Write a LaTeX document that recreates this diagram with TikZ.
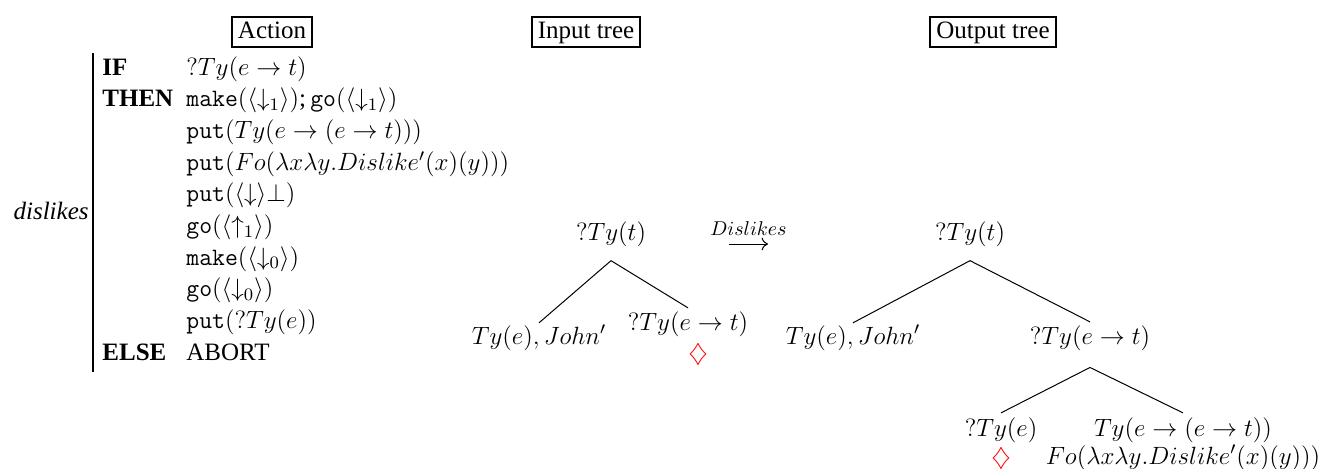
\RequirePackage{fix-cm}
\documentclass[tikz,border=0pt]{standalone}
\usepackage[no-math]{fontspec}
\setmainfont{Liberation Serif}
\usetikzlibrary{calc,arrows.meta}
\tikzset{
  every node/.style={font=\fontsize{12.5}{15}\selectfont, inner sep=0pt},
  hdr/.style={draw, line width=1pt, inner xsep=3pt, inner ysep=1.7pt, text height=8.8pt, text depth=2.8pt},
  row/.style={anchor=base west},
  tnode/.style={anchor=base},
  edge/.style={line width=0.5pt},
  cursor/.style={anchor=base, text=red},
  rulebar/.style={line width=0.9pt},
  trans/.style={line width=0.5pt, -{To[length=3.2pt,width=6.4pt]}},
  arrlabel/.style={font=\fontsize{10}{12}\selectfont, anchor=base, yshift=4.5pt},
}
\begin{document}
\begin{tikzpicture}[x=0.5pt,y=-0.5pt]
\useasboundingbox (0,0) rectangle (1325,468);
% headers
\node[hdr] (action) at (272,32) {Action};
\node[hdr] (input) at (586,32) {Input tree};
\node[hdr] (output) at (993,32) {Output tree};
% lexical action
\coordinate (bartop) at (93,53);
\coordinate (barbot) at (93,372);
\draw[rulebar] (bartop) -- (barbot);
\node[anchor=base east] (name) at (89,219) {\itshape dislikes};
\node[row] (kif) at (102,75) {\bfseries IF};
\node[row] (r0) at (186,75) {$?Ty(e\rightarrow t)$};
\node[row] (kthen) at (102,106.7) {\bfseries THEN};
\node[row] (r1) at (186,106.7) {\texttt{make}$(\langle\downarrow_1\rangle)$;\,\texttt{go}$(\langle\downarrow_1\rangle)$};
\node[row] (r2) at (186,138.4) {\texttt{put}$(Ty(e\rightarrow(e\rightarrow t)))$};
\node[row] (r3) at (186,170.1) {\texttt{put}$(Fo(\lambda x\lambda y.Dislike'(x)(y)))$};
\node[row] (r4) at (186,201.8) {\texttt{put}$(\langle\downarrow\rangle\bot)$};
\node[row] (r5) at (186,233.5) {\texttt{go}$(\langle\uparrow_1\rangle)$};
\node[row] (r6) at (186,265.2) {\texttt{make}$(\langle\downarrow_0\rangle)$};
\node[row] (r7) at (186,296.9) {\texttt{go}$(\langle\downarrow_0\rangle)$};
\node[row] (r8) at (186,328.6) {\texttt{put}$(?Ty(e))$};
\node[row] (kelse) at (102,360.3) {\bfseries ELSE};
\node[row] (r9) at (186,360.3) {ABORT};
% input tree
\node[tnode] (iroot) at (611,240) {$?Ty(t)$};
\node[tnode] (ileft) at (539,344) {$Ty(e), John'$};
\node[tnode] (iright) at (688,330) {$?Ty(e\rightarrow t)$};
\node[cursor] (icur) at (698,361.5) {$\diamondsuit$};
\draw[edge] ([yshift=-7pt]iroot.south) -- ([yshift=1pt]ileft.north);
\draw[edge] ([yshift=-7pt]iroot.south) -- ([yshift=1.5pt]iright.north);
% transition arrow
\coordinate (arrL) at (729,244);
\coordinate (arrR) at (768,244);
\draw[trans] (arrL) -- (arrR) node[midway, arrlabel] (arrlab) {$Dislikes$};
% output tree
\node[tnode] (oroot) at (970,240) {$?Ty(t)$};
\node[tnode] (oleft) at (853,344) {$Ty(e), John'$};
\node[tnode] (oright) at (1090,344) {$?Ty(e\rightarrow t)$};
\node[tnode] (oll) at (1001,436) {$?Ty(e)$};
\node[tnode] (olr) at (1183,436) {$Ty(e\rightarrow(e\rightarrow t))$};
\node[tnode] (ofo) at (1183,464) {$Fo(\lambda x\lambda y.Dislike'(x)(y)))$};
\node[cursor] (ocur) at (1001,465.5) {$\diamondsuit$};
\draw[edge] ([yshift=-7pt]oroot.south) -- ([yshift=1pt]oleft.north);
\draw[edge] ([yshift=-7pt]oroot.south) -- ([yshift=1.5pt]oright.north);
\draw[edge] ([yshift=-8.4pt]oright.south) -- ([yshift=2pt]oll.north);
\draw[edge] ([yshift=-8.4pt]oright.south) -- ([yshift=2pt]olr.north);
\end{tikzpicture}
\end{document}
